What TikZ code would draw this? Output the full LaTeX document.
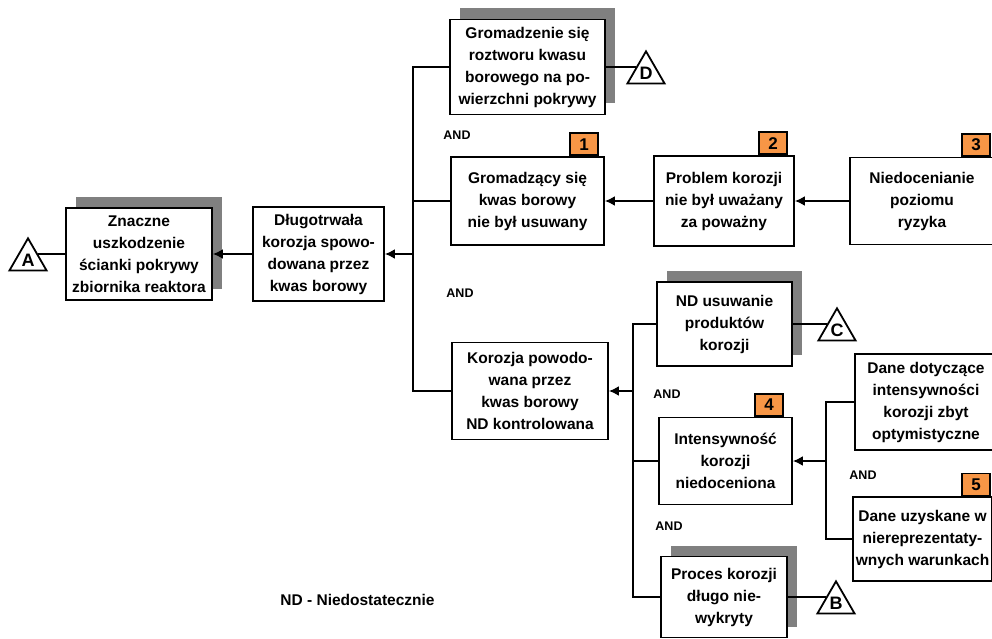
\documentclass[tikz,border=0pt]{standalone}
\usepackage{fontspec}
\setmainfont{Liberation Sans}
\usetikzlibrary{arrows.meta,shapes.geometric,shadows,calc}
\definecolor{shade}{RGB}{128,128,128}
\definecolor{badgeorange}{RGB}{247,150,70}

\begin{document}
\begin{tikzpicture}[x=1pt,y=-1pt,
  box/.style={draw, line width=1.8pt, fill=white, align=center,
    inner xsep=1pt, inner ysep=0pt,
    font=\fontsize{15.5}{22}\selectfont\bfseries},
  shadowed/.style={drop shadow={shadow xshift=10pt, shadow yshift=11pt,
    fill=shade, opacity=1}},
  event/.style={draw, line width=1.8pt, fill=white, regular polygon,
    regular polygon sides=3, minimum size=43pt, inner sep=0pt,
    font=\fontsize{18}{18}\selectfont\bfseries},
  badge/.style={draw, line width=1.6pt, fill=badgeorange, minimum width=28pt,
    minimum height=22pt, inner sep=0pt, anchor=south east,
    font=\fontsize{17}{17}\selectfont\bfseries},
  gate/.style={font=\fontsize{12.5}{12.5}\selectfont\bfseries},
  link/.style={line width=1.8pt},
  feed/.style={link, -{Latex[length=10pt,width=10pt]}},
]
\useasboundingbox (0,0) rectangle (992,639);
\clip (0,0) rectangle (992,639);

% event boxes
\node[box, shadowed, minimum width=146pt, minimum height=92pt] (b1) at (139,254)
  {Znaczne\\uszkodzenie\\ścianki pokrywy\\zbiornika reaktora};
\node[box, minimum width=131pt, minimum height=94pt] (b2) at (318.5,254)
  {Długotrwała\\korozja spowo-\\dowana przez\\kwas borowy};
\node[box, shadowed, minimum width=155pt, minimum height=95pt] (b3) at (527.5,67)
  {Gromadzenie się\\roztworu kwasu\\borowego na po-\\wierzchni pokrywy};
\node[box, minimum width=153pt, minimum height=88pt] (b4) at (527.5,201)
  {Gromadzący się\\kwas borowy\\nie był usuwany};
\node[box, minimum width=140pt, minimum height=90pt] (b5) at (724,201)
  {Problem korozji\\nie był uważany\\za poważny};
\node[box, minimum width=144pt, minimum height=87pt] (b6) at (922,201)
  {Niedocenianie\\poziomu\\ryzyka};
\node[box, minimum width=156pt, minimum height=97pt] (b7) at (530,391)
  {Korozja powodo-\\wana przez\\kwas borowy\\ND kontrolowana};
\node[box, shadowed, minimum width=135pt, minimum height=84pt] (b8) at (724.5,324)
  {ND usuwanie\\produktów\\korozji};
\node[box, minimum width=133pt, minimum height=87pt] (b9) at (725.5,461)
  {Intensywność\\korozji\\niedoceniona};
\node[box, minimum width=142pt, minimum height=96pt] (b10) at (926,402)
  {Dane dotyczące\\intensywności\\korozji zbyt\\optymistyczne};
\node[box, minimum width=139pt, minimum height=84pt] (b11) at (922.5,539)
  {Dane uzyskane w\\niereprezentaty-\\wnych warunkach};
\node[box, shadowed, minimum width=126pt, minimum height=81pt] (b12) at (724,597)
  {Proces korozji\\długo nie-\\wykryty};

% numbered badges
\node[badge] (n1) at ($(b4.north east)+(-6,0)$) {1};
\node[badge] (n2) at ($(b5.north east)+(-7,0)$) {2};
\node[badge] (n3) at ($(b6.north east)+(-4,0)$) {3};
\node[badge] (n4) at ($(b9.north east)+(-9,0)$) {4};
\node[badge] (n5) at ($(b11.north east)+(-2,0)$) {5};

% transfer triangles
\node[event, anchor=side 3] (tA) at ($(b1.west)+(-27,0)$) {A};
\node[event, anchor=side 1] (tD) at ($(b3.east)+(30,0)$) {D};
\node[event, anchor=side 1] (tC) at ($(b8.east)+(34,0)$) {C};
\node[event, anchor=side 1] (tB) at ($(b12.east)+(38,0)$) {B};

% gate labels
\node[gate] (g1) at (457,135) {AND};
\node[gate] (g2) at (460,293) {AND};
\node[gate] (g3) at (667,394) {AND};
\node[gate] (g4) at (669,526) {AND};
\node[gate] (g5) at (863,475) {AND};

\node[font=\fontsize{15.5}{18}\selectfont\bfseries] (legend) at (357.5,600)
  {ND - Niedostatecznie};

% buses
\coordinate (bus1) at (413,0);
\coordinate (bus2) at (633,0);
\coordinate (bus3) at (826,0);

% connectors
\draw[link] (tA.side 3) -- (b1.west);
\draw[feed] (b2.west) -- (b1.east);
\draw[link] (b3.west) -- (b3.west -| bus1) -- (b7.west -| bus1) -- (b7.west);
\draw[link] (b4.west) -- (b4.west -| bus1);
\draw[feed] (b2.east -| bus1) -- (b2.east);
\draw[link] (b3.east) -- (tD.side 1);
\draw[feed] (b5.west) -- (b4.east |- b5.west);
\draw[feed] (b6.west) -- (b5.east |- b6.west);
\draw[link] (b8.west) -- (b8.west -| bus2) -- (b12.west -| bus2) -- (b12.west);
\draw[link] (b9.west) -- (b9.west -| bus2);
\draw[feed] (b7.east -| bus2) -- (b7.east);
\draw[link] (b8.east) -- (tC.side 1);
\draw[link] (b12.east) -- (tB.side 1);
\draw[link] (b10.west) -- (b10.west -| bus3) -- (b11.west -| bus3) -- (b11.west);
\draw[feed] (b9.east -| bus3) -- (b9.east);
\end{tikzpicture}
\end{document}
